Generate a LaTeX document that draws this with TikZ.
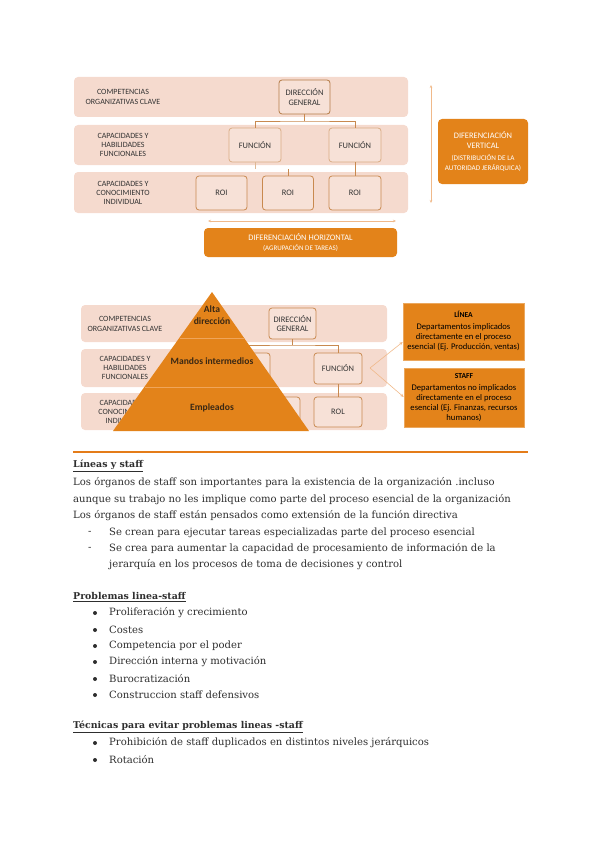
\documentclass[tikz,border=0pt]{standalone}
\usepackage{fontspec}
\setmainfont{DejaVu Serif}
\newfontfamily\carl{Carlito}
\usetikzlibrary{arrows.meta}
\definecolor{band}{HTML}{F5DACE}
\definecolor{boxfill}{HTML}{F7E1D7}
\definecolor{boxline}{HTML}{C8894F}
\definecolor{org}{HTML}{E3831A}
\definecolor{lbl}{HTML}{333333}
\definecolor{arrc}{HTML}{F0B98A}
\definecolor{bodyc}{HTML}{2E2E2E}
\definecolor{pyrtxt}{HTML}{3A2814}
\definecolor{slice}{HTML}{EFA55A}
\begin{document}
\begin{tikzpicture}[x=1pt,y=-1pt,
  bandbox/.style={fill=band, draw=none, rounded corners=4pt, inner sep=0pt},
  orgbox/.style={draw=boxline, line width=0.8pt, fill=boxfill, rounded corners=3pt,
     font=\carl\fontsize{8.4}{9.6}\selectfont, text=lbl, align=center, inner sep=0pt},
  lvl/.style={font=\carl\fontsize{8}{9.4}\selectfont, text=lbl, align=center},
  conn/.style={draw=boxline, line width=0.7pt},
  dblarrow/.style={draw=arrc, line width=0.5pt, {Stealth[length=3pt,width=2.5pt]}-{Stealth[length=3pt,width=2.5pt]}},
  onearrow/.style={draw=arrc, line width=0.6pt, -{Stealth[length=3.5pt,width=3pt]}},
  difbox/.style={fill=org, draw=none, rounded corners=4pt, text=white, align=center, inner sep=0pt},
  deptbox/.style={fill=org, draw=org!70!white, line width=0.6pt, text=black, align=center, inner sep=0pt,
     font=\carl\fontsize{8.6}{10}\selectfont},
  pyrlbl/.style={font=\carl\bfseries\fontsize{9.6}{11.5}\selectfont, text=pyrtxt, align=center},
  bodytxt/.style={anchor=west, inner sep=0pt, text=bodyc, font=\fontsize{10.05}{12}\selectfont},
  titletxt/.style={anchor=west, inner sep=0pt, text=bodyc, font=\bfseries\fontsize{9.4}{11}\selectfont},
]
\useasboundingbox (0,0) rectangle (600,848);

% ================= Diagram 1 =================
\node[bandbox, minimum width=334, minimum height=40] (b11) at (241,97) {};
\node[bandbox, minimum width=334, minimum height=40] (b12) at (241,145) {};
\node[bandbox, minimum width=334, minimum height=41] (b13) at (241,192.5) {};

\node[lvl] (l11) at (123,97) {COMPETENCIAS\\ORGANIZATIVAS CLAVE};
\node[lvl] (l12) at (123,145) {CAPACIDADES Y\\HABILIDADES\\FUNCIONALES};
\node[lvl] (l13) at (123,193) {CAPACIDADES Y\\CONOCIMIENTO\\INDIVIDUAL};

\node[orgbox, minimum width=51, minimum height=34, draw=boxline!90!black] (dg1) at (304.5,97) {DIRECCIÓN\\GENERAL};
\node[orgbox, minimum width=52, minimum height=34, draw=boxline!70!white] (f11) at (255,145) {FUNCIÓN};
\node[orgbox, minimum width=52, minimum height=34, draw=boxline!70!white] (f12) at (355,145) {FUNCIÓN};
\node[orgbox, minimum width=51, minimum height=34] (r11) at (221.5,193) {ROI};
\node[orgbox, minimum width=51, minimum height=34] (r12) at (288,193) {ROI};
\node[orgbox, minimum width=52, minimum height=34] (r13) at (355,193) {ROI};

\coordinate (j1) at (304.5,121);
\draw[conn] (dg1.south) -- (j1);
\draw[conn] (f11.north) |- (j1) -| (f12.north);
\coordinate (c11) at (255,169);
\draw[conn, draw=boxline!60!white] (f11.south) -- (c11);
\coordinate (c12) at (288,169);
\draw[conn] (c12) -- (r12.north);
\draw[conn] (f12.south) -- (r13.north);

\coordinate (va1) at (431,85);
\coordinate (va2) at (431,203);
\draw[dblarrow] (va1) -- (va2);
\coordinate (ha1) at (208,221);
\coordinate (ha2) at (396,221);
\draw[dblarrow] (ha1) -- (ha2);

\node[difbox, minimum width=90, minimum height=65, font=\carl\fontsize{8.4}{9.6}\selectfont] (dv) at (483,151.5)
  {DIFERENCIACIÓN\\VERTICAL\\[3pt]\fontsize{7.2}{9}\selectfont (DISTRIBUCIÓN DE LA\\\fontsize{7.2}{9}\selectfont AUTORIDAD JERÁRQUICA)};
\node[difbox, minimum width=193, minimum height=29, font=\carl\fontsize{8.4}{9.6}\selectfont] (dh) at (300.5,242.5)
  {DIFERENCIACIÓN HORIZONTAL\\[1pt]\fontsize{7}{8}\selectfont (AGRUPACIÓN DE TAREAS)};

% ================= Diagram 2 =================
\node[bandbox, minimum width=306, minimum height=37] (b21) at (234,323.5) {};
\node[bandbox, minimum width=306, minimum height=38] (b22) at (234,368) {};
\node[bandbox, minimum width=306, minimum height=37] (b23) at (234,411.5) {};

\node[lvl] (l21) at (125,324) {COMPETENCIAS\\ORGANIZATIVAS CLAVE};
\node[lvl] (l22) at (125,368) {CAPACIDADES Y\\HABILIDADES\\FUNCIONALES};
\node[lvl] (l23) at (125,412) {CAPACIDADES Y\\CONOCIMIENTO\\INDIVIDUAL};

\node[orgbox, minimum width=47, minimum height=31] (dg2) at (292.5,323.5) {DIRECCIÓN\\GENERAL};
\node[orgbox, minimum width=48, minimum height=31] (f21) at (246,368.5) {};
\node[orgbox, minimum width=48, minimum height=31] (f22) at (338,368.5) {FUNCIÓN};
\node[orgbox, minimum width=48, minimum height=30] (r22) at (276,412) {};
\node[orgbox, minimum width=48, minimum height=30] (r23) at (338,412) {ROL};

\coordinate (j2) at (292.5,345);
\draw[conn] (dg2.south) -- (j2);
\draw[conn] (f21.north) |- (j2) -| (f22.north);
\draw[conn] (f22.south) -- (r23.north);

% pyramid
\coordinate (pa) at (212,292);
\coordinate (pl) at (113,431);
\coordinate (pr) at (309,431);
\fill[org] (pa) -- (pl) -- (pr) -- cycle;
\coordinate (s1l) at (179.6,338);
\coordinate (s1r) at (244.4,338);
\coordinate (s2l) at (145,387);
\coordinate (s2r) at (279,387);
\draw[slice, line width=0.6pt] (s1l) -- (s1r);
\draw[slice, line width=0.6pt] (s2l) -- (s2r);
\node[pyrlbl] (p1) at (212,315) {Alta\\dirección};
\node[pyrlbl] (p2) at (212,361) {Mandos intermedios};
\node[pyrlbl] (p3) at (212,408) {Empleados};

% line / staff boxes
\node[deptbox, minimum width=121, minimum height=57] (linea) at (463.5,331.5)
  {{\bfseries\fontsize{7.6}{9}\selectfont LÍNEA}\\[2pt]Departamentos implicados\\directamente en el proceso\\esencial (Ej. Producción, ventas)};
\node[deptbox, minimum width=120, minimum height=59] (staff) at (464,397.5)
  {{\bfseries\fontsize{7.6}{9}\selectfont STAFF}\\[2pt]Departamentos no implicados\\directamente en el proceso\\esencial (Ej. Finanzas, recursos\\humanos)};

\coordinate (fa) at (370,368);
\draw[onearrow] (fa) -- (linea.west |- 0,342);
\draw[onearrow] (fa) -- (staff.west |- 0,397);

% ================= Rule =================
\coordinate (ru1) at (73,452);
\coordinate (ru2) at (528,452);
\draw[draw=org!95!red, line width=1.6pt] (ru1) -- (ru2);

% ================= Text =================
\node[titletxt] (t1) at (73,466) {\underline{Líneas y staff}};
\node[bodytxt] (t2) at (73,483) {Los órganos de staff son importantes para la existencia de la organización .incluso};
\node[bodytxt] (t3) at (73,500) {aunque su trabajo no les implique como parte del proceso esencial de la organización};
\node[bodytxt] (t4) at (73,516) {Los órganos de staff están pensados como extensión de la función directiva};
\node[bodytxt] (d1) at (88,533) {-};
\node[bodytxt] (t5) at (109,533) {Se crean para ejecutar tareas especializadas parte del proceso esencial};
\node[bodytxt] (d2) at (88,549) {-};
\node[bodytxt] (t6) at (109,549) {Se crea para aumentar la capacidad de procesamiento de información de la};
\node[bodytxt] (t7) at (109,565) {jerarquía en los procesos de toma de decisiones y control};

\node[titletxt] (t8) at (73,597) {\underline{Problemas linea-staff}};
\foreach \yy/\tx [count=\i] in {613/Proliferación y crecimiento, 630/Costes, 646/Competencia por el poder,
   662/Dirección interna y motivación, 679/Burocratización, 695/Construccion staff defensivos}{
  \fill[bodyc] (95,\yy) circle (2pt);
  \node[bodytxt] (pb\i) at (109,\yy) {\tx};
}

\node[titletxt] (t9) at (73,727) {\underline{Técnicas para evitar problemas lineas -staff}};
\foreach \yy/\tx [count=\i] in {743/Prohibición de staff duplicados en distintos niveles jerárquicos, 760/Rotación}{
  \fill[bodyc] (95,\yy) circle (2pt);
  \node[bodytxt] (tc\i) at (109,\yy) {\tx};
}
\end{tikzpicture}
\end{document}
